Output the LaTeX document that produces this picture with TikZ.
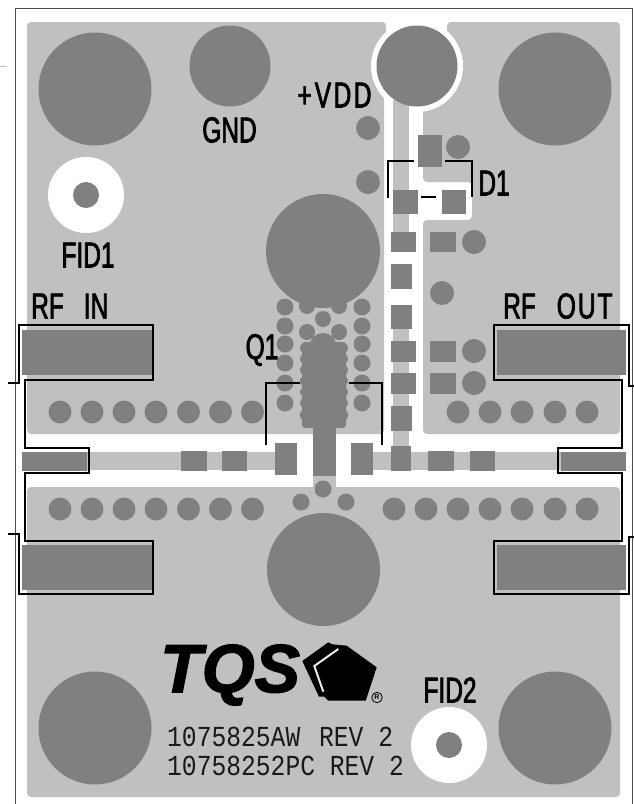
\documentclass[tikz,border=0pt]{standalone}
\usepackage{fontspec}
\setmainfont{Liberation Sans}
\newfontfamily\lblfont[FakeStretch=0.68,FakeBold=2]{Liberation Sans}
\newfontfamily\numfont[FakeStretch=0.85]{Liberation Mono}
\newfontfamily\logofont[FakeBold=2]{Liberation Sans}
\definecolor{boardgrey}{HTML}{C0C0C0}
\definecolor{copper}{HTML}{808080}
\tikzset{
  region/.style={fill=boardgrey,draw=none,rounded corners=4pt},
  pad/.style={fill=copper,draw=none},
  trace/.style={fill=boardgrey,draw=none},
  outline/.style={draw=black,line width=1.4pt,line join=miter},
  frameline/.style={draw=black!70,line width=0.8pt},
  lbl/.style={inner sep=0pt,text=black,font=\lblfont\fontsize{36}{36}\selectfont},
  num/.style={inner sep=0pt,anchor=west,text=black!90,font=\numfont\fontsize{29}{29}\selectfont}
}
\newcommand{\viaat}[3]{\fill[copper] (#1,#2) circle[radius=#3];}
\begin{document}
\begin{tikzpicture}[x=1pt,y=-1pt]
\useasboundingbox (0,0) rectangle (634,804);
\fill[white] (0,0) rectangle (634,804);
% frame
\draw[frameline] (15,804) -- (15,8) -- (632,8) -- (632,804);
\draw[draw=black!25,line width=0.6pt] (0,66.5) -- (7,66.5);
% copper-pour regions
\path[region] (27,22) -- (386,22) -- (386,70) -- (384,70) -- (384,434) -- (27,434) -- cycle;
\path[region] (447,22) -- (620,22) -- (620,434) -- (423,434) -- (423,220) -- (472,220) -- (472,182) -- (423,182) -- (423,70) -- (447,70) -- cycle;
\path[region] (27,487) -- (620,487) -- (620,797) -- (27,797) -- cycle;
\fill[boardgrey] (313,470) rectangle (336,492);
% top pad clearance
\fill[white] (417,66) circle[radius=46];
% traces
\path[trace] (393,100) rectangle (409,232);
\path[trace] (393,329) rectangle (409,446);
\path[trace] (87,452) rectangle (275,470);
\path[trace] (373,452) rectangle (561,470);
% large circles
\viaat{95}{89}{56.5}
\viaat{555}{89}{56.5}
\viaat{95}{728}{56.5}
\viaat{555}{728}{56.5}
\viaat{323.5}{569.5}{56.5}
\viaat{323}{251}{57}
\viaat{230}{66}{40.5}
\viaat{417}{66}{40.5}
% fiducials
\fill[white] (86,195) circle[radius=38];
\viaat{86}{195}{13}
\fill[white] (449,745) circle[radius=38];
\viaat{449}{745}{13}
% via rows
\foreach \x in {60,92,124,156,188.5,220.5,252.5} {\viaat{\x}{412}{11.5}\viaat{\x}{509}{11.5}}
\foreach \x in {458,490,522,555,587} {\viaat{\x}{412}{11.5}}
\foreach \x in {394,426,458,490,522,555,587} {\viaat{\x}{509}{11.5}}
% single vias
\viaat{368}{128}{12}
\viaat{368}{182}{12}
\viaat{458}{147}{12}
\viaat{474}{242}{12}
\viaat{442}{293}{12}
\viaat{474}{351}{12}
\viaat{474}{383}{12}
% RF pads
\path[pad] (22,330) rectangle (152,375);
\path[pad] (22,545) rectangle (152,590);
\path[pad] (497,330) rectangle (626,375);
\path[pad] (497,545) rectangle (626,590);
\path[pad] (22,452) rectangle (87,471);
\path[pad] (561,452) rectangle (626,471);
% line pads
\path[pad] (181,451) rectangle (207,471);
\path[pad] (222,451) rectangle (247,471);
\path[pad] (275,443) rectangle (297,475);
\path[pad] (351,443) rectangle (373,475);
\path[pad] (391,446) rectangle (411,471);
\path[pad] (428,451) rectangle (454,471);
\path[pad] (470,451) rectangle (495,471);
% drain column pads
\path[pad] (418,135) rectangle (442,167);
\path[pad] (393,190) rectangle (418,214);
\path[pad] (442,190) rectangle (466,214);
\path[pad] (391,232) rectangle (416,252);
\path[pad] (391,264) rectangle (412,289);
\path[pad] (391,305) rectangle (412,329);
\path[pad] (391,341) rectangle (416,362);
\path[pad] (391,373) rectangle (416,394);
\path[pad] (391,406) rectangle (412,431);
\path[pad] (430,232) rectangle (456,252);
\path[pad] (430,341) rectangle (456,362);
\path[pad] (430,373) rectangle (456,394);
% transistor body
\path[pad,rounded corners=3pt] (302,342) -- (346,342) -- (346,428) -- (302,428) -- cycle;
\fill[copper] (313,428) rectangle (336,476);
\fill[copper] (323,345) ellipse[x radius=13,y radius=12];
\foreach \y in {348,359,370,381,392,403} {\viaat{304.8}{\y}{5}\viaat{343.2}{\y}{5}}
\viaat{305}{415}{5.5}
\viaat{343}{415}{5.5}
% via columns around the transistor
\foreach \y in {307,326,344,363,383,403} {\viaat{285}{\y}{8.5}\viaat{362}{\y}{8.5}}
\foreach \x/\y in {307/306,339/306,323/319,307/332,339/332} {\viaat{\x}{\y}{8}}
\foreach \x/\y in {323/489,301/502,346/502} {\viaat{\x}{\y}{8.5}}
% silkscreen outlines
\draw[outline] (8,383) -- (19,383) -- (19,325) -- (153,325) -- (153,380) -- (25,380) -- (25,448) -- (89,448) -- (89,473) -- (25,473) -- (25,541) -- (153,541) -- (153,594) -- (19,594) -- (19,534) -- (8,534);
\draw[outline] (634,386) -- (629,386) -- (629,325) -- (494,325) -- (494,380) -- (622,380) -- (622,448) -- (558,448) -- (558,473) -- (622,473) -- (622,541) -- (494,541) -- (494,594) -- (629,594) -- (629,537) -- (634,537);
\draw[outline] (300,383) -- (266,383) -- (266,445);
\draw[outline] (349,383) -- (382,383) -- (382,445);
\draw[outline] (388,198) -- (388,161) -- (414,161);
\draw[outline] (445,161) -- (472,161) -- (472,197);
\draw[outline] (421,197) -- (436,197);
% labels
\node[lbl] (vdd) at (334.5,95) {+\hspace{3pt}V\hspace{2.5pt}D\hspace{2.5pt}D};
\node[lbl] (gnd) at (229.5,130) {GND};
\node[lbl] (fid1) at (88,255) {FID1};
\node[lbl] (fid2) at (450,690) {FID2};
\node[lbl,anchor=west] (rfin) at (31,306) {RF\hspace{20pt}IN};
\node[lbl,anchor=west] (rfout) at (503,306) {RF\hspace{21pt}O\hspace{2pt}U\hspace{2pt}T};
\node[lbl] (q1) at (262,350) {Q1};
\node[lbl] (d1) at (494,183) {D1};
\node[num] (part1) at (167,737) {1075825AW\hspace{4pt} REV 2};
\node[num] (part2) at (167,766) {10758252PC REV 2};
% logo
\node[inner sep=0pt,anchor=west,text=black,font=\logofont\bfseries\itshape\fontsize{68}{68}\selectfont] (tqs) at (160,675) {TQS};
\fill[black] (302.3,661) -- (328.3,642.3) -- (332.3,644.3) -- (346.7,645.7) -- (376.7,667.3) -- (365.7,700.7) -- (328.3,700.7) -- (324.3,696.7) -- (319,696.7) -- cycle;
\draw[white!65!boardgrey,line width=2pt] (338.3,649) -- (314.3,666) -- (323.3,691.7);
\node[circle,draw=black,line width=0.8pt,inner sep=0pt,minimum size=10.5pt,font=\bfseries\fontsize{7}{7}\selectfont] (reg) at (377,697.5) {R};
\end{tikzpicture}
\end{document}
